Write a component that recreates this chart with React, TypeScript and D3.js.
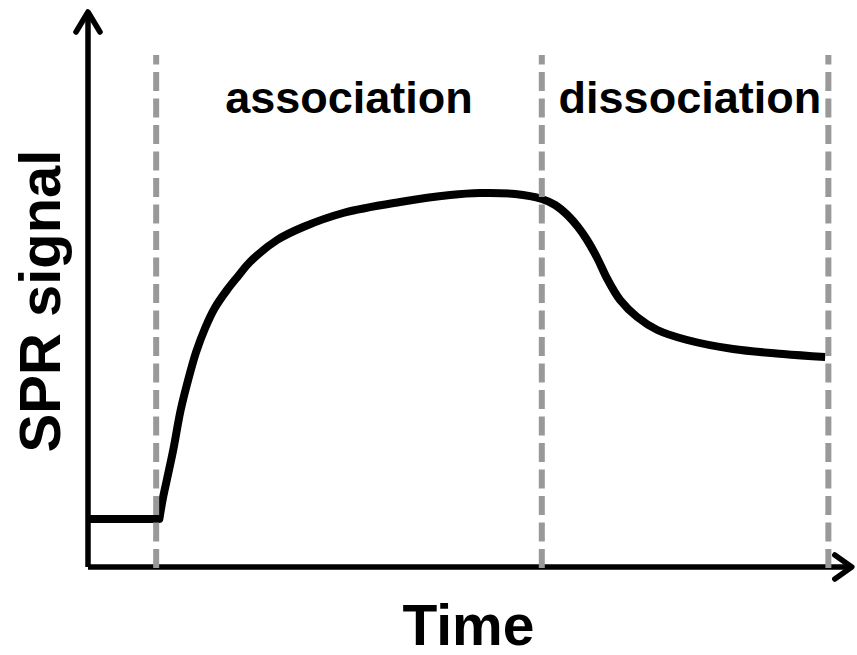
import React from "react";
import * as d3 from "d3";

// Sensorgram (time in s, signal in RU)
const timeValues = [0, 67, 70, 74, 80, 87, 94, 101.5, 110, 119, 130.5, 141, 152, 177.5, 202, 239.5, 293, 340, 368, 401, 426, 438.5, 450, 460, 468.5, 478, 487.5, 499.5, 515.5, 534.5, 562.5, 605.5, 652.5, 692];
const signalValues = [48, 48, 67, 87, 117, 157, 187, 215, 239, 259, 277, 291, 305, 327, 340, 354, 365, 372, 374, 373, 368, 362, 352, 340, 327, 309, 288, 267, 250, 237, 227, 218, 213, 210];
const injectionIndex = 1; // end of the flat baseline
const phaseMarkers = [64, 426, 695];
const phaseLabels = ["association", "dissociation"];
const phaseLabelCenters = [245, 565];
const xTitle = "Time";
const yTitle = "SPR signal";

const W = 857;
const H = 655;
const FONT = "'Liberation Sans', Arial, Helvetica, sans-serif";

export default function App() {
  const x = d3.scaleLinear().domain([0, 720]).range([88, 855]);
  const y = d3.scaleLinear().domain([0, 550]).range([567, 17]);

  const pts: [number, number][] = timeValues.map((t, i) => [t, signalValues[i]]);
  const baseline = pts.slice(0, injectionIndex + 1);
  const kinetics = pts.slice(injectionIndex);

  const straight = d3
    .line<[number, number]>()
    .x((d) => x(d[0]))
    .y((d) => y(d[1]));
  const smooth = d3
    .line<[number, number]>()
    .x((d) => x(d[0]))
    .y((d) => y(d[1]))
    .curve(d3.curveCatmullRom.alpha(0.5));

  const d = (straight(baseline) || "") + (smooth(kinetics) || "").replace(/^M/, "L");

  const x0 = x(0);
  const y0 = y(0);
  const yTop = y(555);
  const xEnd = x(717);

  return (
    <svg
      width={W}
      height={H}
      style={{ position: "absolute", left: 0, top: 0, background: "#fff" }}
    >
      <rect x={0} y={0} width={W} height={H} fill="#fff" />
      {/* axes */}
      <g stroke="#000" strokeWidth={5.5} fill="none" strokeLinecap="round" strokeLinejoin="round">
        <line x1={x0} y1={y0} x2={x0} y2={yTop} strokeLinecap="butt" />
        <line x1={x0} y1={y0} x2={xEnd} y2={y0} strokeLinecap="butt" />
        <polyline points={`${x0 - 12},${yTop + 20} ${x0},${yTop} ${x0 + 12},${yTop + 20}`} />
        <polyline points={`${xEnd - 17},${y0 - 12} ${xEnd},${y0} ${xEnd - 17},${y0 + 12}`} />
      </g>
      {/* sensorgram */}
      <path d={d} fill="none" stroke="#000" strokeWidth={8} strokeLinejoin="round" />
      {/* phase markers */}
      {phaseMarkers.map((t, i) => (
        <line
          key={i}
          x1={x(t)}
          x2={x(t)}
          y1={y0 + 1}
          y2={y(512)}
          stroke="#999"
          strokeWidth={6}
          strokeDasharray="19 7.5"
        />
      ))}
      {/* phase labels */}
      {phaseLabels.map((lab, i) => (
        <text
          key={lab}
          x={x(phaseLabelCenters[i])}
          y={113}
          textAnchor="middle"
          fontFamily={FONT}
          fontWeight="bold"
          fontSize={45}
          fill="#000"
        >
          {lab}
        </text>
      ))}
      <text
        x={468.5}
        y={645}
        textAnchor="middle"
        fontFamily={FONT}
        fontWeight="bold"
        fontSize={57}
        fill="#000"
      >
        {xTitle}
      </text>
      <text
        transform="translate(60,301) rotate(-90)"
        textAnchor="middle"
        fontFamily={FONT}
        fontWeight="bold"
        fontSize={58}
        fill="#000"
      >
        {yTitle}
      </text>
    </svg>
  );
}
